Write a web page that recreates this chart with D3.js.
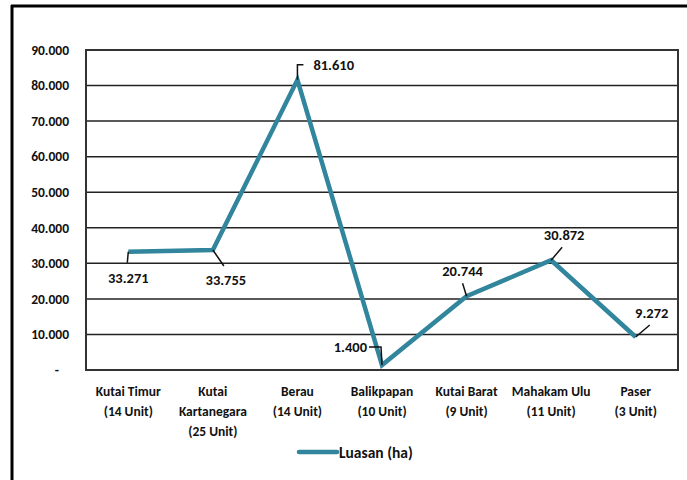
<!DOCTYPE html>
<html>
<head>
<meta charset="utf-8">
<script src="https://cdn.jsdelivr.net/npm/d3@7"></script>
<style>
  html, body { margin: 0; padding: 0; background: #fff; }
  svg { display: block; }
  text { font-family: Carlito, Lato, "Liberation Sans", sans-serif; font-weight: bold; fill: #111; }
</style>
</head>
<body>
<svg id="chart" width="687" height="480"></svg>
<script>
// Luasan per kabupaten/kota
const categories = [
  ["Kutai Timur", "(14 Unit)"],
  ["Kutai", "Kartanegara", "(25 Unit)"],
  ["Berau", "(14 Unit)"],
  ["Balikpapan", "(10 Unit)"],
  ["Kutai Barat", "(9 Unit)"],
  ["Mahakam Ulu", "(11 Unit)"],
  ["Paser", "(3 Unit)"]
];
const luasan = [33271, 33755, 81610, 1400, 20744, 30872, 9272];
const yTicks = [0, 10000, 20000, 30000, 40000, 50000, 60000, 70000, 80000, 90000];
const seriesName = "Luasan (ha)";

// leader line path and label anchor for each point (offsets from the point)
const labelPlacement = [
  { path: [[0, 0], [-1, 11]], at: [0, 31], anchor: "middle" },
  { path: [[0, 0], [11, 16]], at: [13, 35], anchor: "middle" },
  { path: [[0, 0], [0, -15], [6, -15]], at: [16, -10], anchor: "start" },
  { path: [[0, 0], [-1, -18], [-13, -18]], at: [-15, -13], anchor: "end" },
  { path: [[0, 0], [-4, -13]], at: [-4, -20], anchor: "middle" },
  { path: [[0, 0], [11, -13]], at: [13, -20], anchor: "middle" },
  { path: [[0, 0], [14, -12]], at: [16, -19], anchor: "middle" }
];

const color = "#31859c";
const num = v => d3.format(".3f")(v / 1000);

const svg = d3.select("#chart");
const plot = { left: 86, right: 678, top: 50, bottom: 370 };

// outer frame (top and left edges)
svg.append("line").attr("x1", 11).attr("x2", 687).attr("y1", 6).attr("y2", 6)
  .attr("stroke", "#000").attr("stroke-width", 3);
svg.append("line").attr("x1", 12).attr("x2", 12).attr("y1", 5).attr("y2", 480)
  .attr("stroke", "#000").attr("stroke-width", 3);

const x = d3.scaleBand().domain(d3.range(categories.length))
  .range([plot.left, plot.right]).padding(0);
const y = d3.scaleLinear().domain([0, 90000]).range([plot.bottom, plot.top]);

// gridlines
svg.append("g").selectAll("line").data(yTicks).join("line")
  .attr("x1", plot.left).attr("x2", plot.right)
  .attr("y1", d => y(d)).attr("y2", d => y(d))
  .attr("stroke", "#222").attr("stroke-width", 1.5);

// plot border
svg.append("rect").attr("x", plot.left).attr("y", plot.top)
  .attr("width", plot.right - plot.left).attr("height", plot.bottom - plot.top)
  .attr("fill", "none").attr("stroke", "#333").attr("stroke-width", 2);

// y axis
const yAxis = svg.append("g").attr("transform", `translate(${plot.left},0)`)
  .call(d3.axisLeft(y).tickValues(yTicks).tickSize(0).tickPadding(17)
    .tickFormat(d => d === 0 ? "-" : num(d)));
yAxis.select(".domain").remove();
yAxis.selectAll("text").attr("font-size", 13.5).attr("font-family", null).attr("fill", "#111")
  .attr("font-weight", "bold")
  .attr("dx", d => d === 0 ? -10 : 0);

// x axis category labels
const xAxis = svg.append("g");
categories.forEach((lines, i) => {
  const cx = x(i) + x.bandwidth() / 2;
  const t = xAxis.append("text")
    .attr("x", cx).attr("y", 396)
    .attr("text-anchor", "middle")
    .attr("font-size", 13.5);
  lines.forEach((ln, j) => t.append("tspan")
    .attr("x", cx).attr("dy", j === 0 ? 0 : 20)
    .text(ln));
});

// series line
const line = d3.line().x((d, i) => x(i) + x.bandwidth() / 2).y(d => y(d));
svg.append("path").datum(luasan)
  .attr("d", line)
  .attr("fill", "none").attr("stroke", color)
  .attr("stroke-width", 4.5).attr("stroke-linejoin", "miter");

// data labels with leader lines
const lbl = svg.append("g");
luasan.forEach((v, i) => {
  const px = x(i) + x.bandwidth() / 2, py = y(v);
  const p = labelPlacement[i];
  lbl.append("path")
    .attr("d", d3.line()(p.path.map(([dx, dy]) => [px + dx, py + dy])))
    .attr("fill", "none").attr("stroke", "#111").attr("stroke-width", 1.5);
  lbl.append("text")
    .attr("x", px + p.at[0]).attr("y", py + p.at[1])
    .attr("text-anchor", p.anchor)
    .attr("font-size", 14.5)
    .text(num(v));
});

// legend
const lg = svg.append("g");
lg.append("line").attr("x1", 299).attr("x2", 337).attr("y1", 452).attr("y2", 452)
  .attr("stroke", color).attr("stroke-width", 4.5).attr("stroke-linecap", "round");
lg.append("text").attr("x", 339).attr("y", 457.5).attr("font-size", 15.5).text(seriesName);
</script>
</body>
</html>
